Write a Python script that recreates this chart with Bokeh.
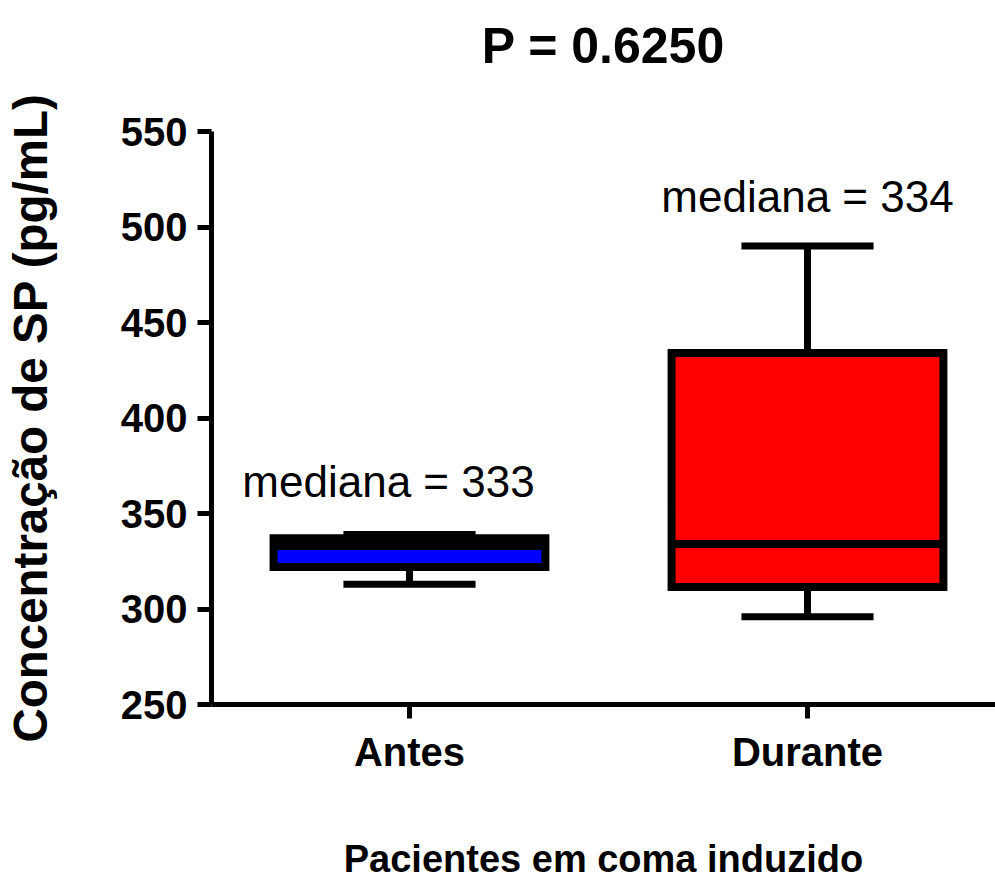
from bokeh.plotting import figure
from bokeh.models import Range1d, FixedTicker, LinearAxis
from bokeh.embed import file_html
from bokeh.resources import INLINE
from bokeh.core.properties import value

# ---- data ----
categories = ["Antes", "Durante"]
q1 = [322, 311.5]
median = [333, 334]
q3 = [337, 434]
wmin = [313, 296]
wmax = [339, 490]
fill_colors = ["#0000FF", "#FF0000"]
median_labels = ["mediana = 333", "mediana = 334"]
y_ticks = [250, 300, 350, 400, 450, 500, 550]
title_text = "P = 0.6250"
x_title = "Pacientes em coma induzido"
y_title = "Concentração de SP (pg/mL)"

FONT = "Liberation Sans"
xs = [i + 1 for i in range(len(categories))]

p = figure(width=995, height=887, output_backend="svg", toolbar_location=None,
           x_range=Range1d(0.5025, 2.4724), y_range=Range1d(y_ticks[0], y_ticks[-1]),
           min_border_left=211, min_border_right=0, min_border_top=131, min_border_bottom=183)
p.outline_line_color = None
p.xgrid.visible = False
p.ygrid.visible = False
p.background_fill_color = "white"

bw = 0.683
cw = 0.332

# whiskers
p.segment(x0=xs, y0=q3, x1=xs, y1=wmax, line_color="black", line_width=7)
p.segment(x0=xs, y0=q1, x1=xs, y1=wmin, line_color="black", line_width=7)
# boxes
p.vbar(x=xs, width=bw, top=q3, bottom=q1, fill_color=fill_colors,
       line_color="black", line_width=8, line_join="miter")
# median
p.segment(x0=[x - bw / 2 for x in xs], y0=median, x1=[x + bw / 2 for x in xs], y1=median,
          line_color="black", line_width=8)
# caps
p.segment(x0=[x - cw / 2 for x in xs], y0=wmax, x1=[x + cw / 2 for x in xs], y1=wmax,
          line_color="black", line_width=7)
p.segment(x0=[x - cw / 2 for x in xs], y0=wmin, x1=[x + cw / 2 for x in xs], y1=wmin,
          line_color="black", line_width=7)

# median annotations
p.text(x=[xs[0]], y=[wmax[0]], text=[median_labels[0]], x_offset=-21, y_offset=-53,
       text_align="center", text_baseline="alphabetic", text_font=value(FONT),
       text_font_size="44px", text_color="black")
p.text(x=[xs[1]], y=[wmax[1]], text=[median_labels[1]], x_offset=0, y_offset=-50,
       text_align="center", text_baseline="alphabetic", text_font=value(FONT),
       text_font_size="44px", text_color="black")

# axes (bottom and left)
xa = p.below[0]
ya = p.left[0]
for ax in (xa, ya):
    ax.axis_line_width = 5
    ax.axis_line_color = "black"
    ax.major_tick_line_width = 5
    ax.major_tick_line_color = "black"
    ax.major_tick_in = 0
    ax.major_tick_out = 14
    ax.minor_tick_line_color = None
    ax.major_label_text_font = FONT
    ax.major_label_text_font_style = "bold"
    ax.major_label_text_font_size = "40px"
    ax.major_label_text_color = "black"
    ax.axis_label_text_font = FONT
    ax.axis_label_text_font_style = "bold"
    ax.axis_label_text_color = "black"

xa.ticker = FixedTicker(ticks=xs)
xa.major_label_overrides = {x: c for x, c in zip(xs, categories)}
xa.major_label_standoff = 11
xa.axis_label = x_title
xa.axis_label_text_font_size = "38px"
xa.axis_label_standoff = 61

ya.ticker = FixedTicker(ticks=y_ticks)
ya.major_label_standoff = 10
ya.axis_label = y_title
ya.axis_label_text_font_size = "47.5px"
ya.axis_label_standoff = 61

# title: drawn as the label of a bare axis above the frame
top_axis = LinearAxis(ticker=FixedTicker(ticks=[]), axis_line_color=None,
                      major_tick_line_color=None, minor_tick_line_color=None,
                      major_tick_in=0, major_tick_out=0, major_label_standoff=0,
                      axis_label=title_text, axis_label_standoff=58,
                      axis_label_text_font=FONT, axis_label_text_font_style="bold",
                      axis_label_text_font_size="50px", axis_label_text_color="black")
p.add_layout(top_axis, "above")

open("out.html", "w").write(file_html(p, INLINE))
